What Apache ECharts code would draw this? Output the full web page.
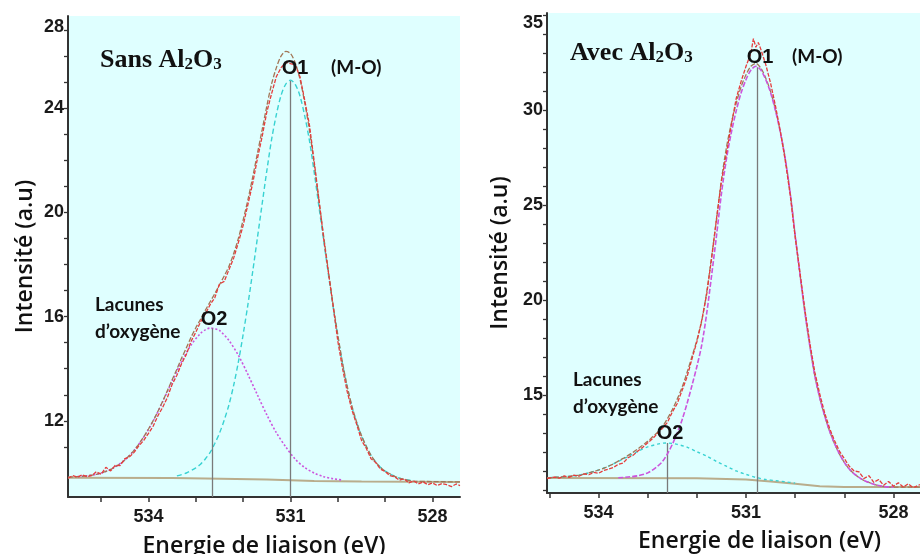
<!DOCTYPE html>
<html><head><meta charset="utf-8">
<script src="https://cdn.jsdelivr.net/npm/echarts@6/dist/echarts.min.js"></script>
<style>html,body{margin:0;padding:0;background:#fff}#c{width:920px;height:554px}</style>
</head><body><div id="c"></div><script>
// ---------- DATA (binding energy eV, intensity a.u.) ----------
// Left panel : "Sans Al2O3"
const leftXTicks = [528, 529, 530, 531, 532, 533, 534, 535];
const leftXLabels = [528, 531, 534];
const leftYTickAt = [11, 12, 13, 14, 15, 16, 17, 18, 19, 20, 21, 22, 23, 24, 25, 26, 27];
const leftYLabelAt = [12, 16, 20, 24, 27.53];
const leftYLabels = ['12', '16', '20', '24', '28'];
const leftPeakCenters = [531.0, 532.66];
const leftPeakHeights = [25.05, 15.55];

const leftBaseline = [[535.7,9.82],[533.5,9.81],[532.8,9.79],[531.5,9.75],[530.5,9.69],[529.5,9.67],[527.42,9.66]];

const leftO1 = [[533.4,9.89],[533.2,10.0],[533.0,10.2],[532.9,10.34],[532.8,10.54],[532.7,10.78],[532.6,11.13],[532.5,11.53],[532.4,12.03],[532.3,12.62],[532.2,13.37],[532.1,14.27],[532.0,15.32],[531.9,16.46],[531.8,17.71],[531.7,19.01],[531.6,20.31],[531.5,21.6],[531.4,22.79],[531.3,23.74],[531.2,24.48],[531.1,24.92],[531.0,25.07],[530.9,24.91],[530.8,24.46],[530.7,23.7],[530.6,22.75],[530.5,21.54],[530.4,20.22],[530.3,18.92],[530.2,17.62],[530.1,16.37],[530.0,15.22],[529.9,14.17],[529.8,13.27],[529.7,12.52],[529.6,11.92],[529.5,11.42],[529.4,11.02],[529.3,10.67],[529.2,10.42],[529.1,10.22],[529.0,10.07],[528.8,9.87],[528.6,9.75],[528.4,9.7]];

const leftO2 = [[535.5,9.86],[535.3,9.89],[535.1,9.95],[534.9,10.06],[534.7,10.24],[534.5,10.5],[534.3,10.88],[534.1,11.38],[533.9,12.0],[533.7,12.74],[533.5,13.52],[533.3,14.28],[533.1,14.91],[532.9,15.36],[532.8,15.49],[532.7,15.56],[532.6,15.53],[532.5,15.47],[532.3,15.08],[532.1,14.51],[531.9,13.78],[531.7,13.0],[531.5,12.23],[531.3,11.55],[531.1,11.0],[530.9,10.53],[530.7,10.21],[530.5,10.0],[530.3,9.86],[530.1,9.78],[529.9,9.73]];

const leftEnvelope = [[535.7,9.84],[535.6,9.85],[535.5,9.86],[535.4,9.87],[535.3,9.89],[535.2,9.92],[535.1,9.95],[535.0,10.0],[534.9,10.06],[534.8,10.14],[534.7,10.24],[534.6,10.35],[534.5,10.5],[534.4,10.68],[534.3,10.88],[534.2,11.12],[534.1,11.39],[534.0,11.69],[533.9,12.01],[533.8,12.37],[533.7,12.75],[533.6,13.16],[533.5,13.58],[533.4,13.98],[533.3,14.41],[533.2,14.8],[533.1,15.21],[533.0,15.57],[532.9,15.9],[532.8,16.24],[532.7,16.56],[532.6,16.88],[532.5,17.22],[532.4,17.56],[532.3,17.93],[532.2,18.42],[532.1,19.01],[532.0,19.71],[531.9,20.48],[531.8,21.34],[531.7,22.25],[531.6,23.16],[531.5,24.08],[531.4,24.92],[531.3,25.54],[531.2,25.99],[531.1,26.17],[531.0,26.09],[530.9,25.73],[530.8,25.11],[530.7,24.21],[530.6,23.15],[530.5,21.85],[530.4,20.45],[530.3,19.09],[530.2,17.75],[530.1,16.46],[530.0,15.29],[529.9,14.22],[529.8,13.31],[529.7,12.55],[529.6,11.94],[529.5,11.43],[529.4,11.03],[529.3,10.68],[529.2,10.42],[529.1,10.22],[529.0,10.07],[528.9,9.97],[528.8,9.87],[528.7,9.8],[528.6,9.75],[528.5,9.72],[528.4,9.69],[528.0,9.67],[527.42,9.66]];

const leftMeasured = [[535.7,9.8],[535.6,9.9],[535.5,9.84],[535.4,9.93],[535.3,9.86],[535.2,9.9],[535.1,10.05],[535.0,9.95],[534.9,10.22],[534.8,10.08],[534.7,10.3],[534.6,10.28],[534.5,10.55],[534.4,10.62],[534.3,10.8],[534.2,11.05],[534.1,11.25],[534.0,11.52],[533.9,11.8],[533.8,12.2],[533.7,12.52],[533.6,12.9],[533.5,13.4],[533.4,13.75],[533.3,14.2],[533.2,14.55],[533.1,15.05],[533.0,15.4],[532.9,15.8],[532.8,16.1],[532.7,16.45],[532.6,16.72],[532.5,17.25],[532.4,17.35],[532.3,17.8],[532.2,18.25],[532.1,18.85],[532.0,19.5],[531.9,20.3],[531.8,21.1],[531.7,22.05],[531.6,22.9],[531.5,23.85],[531.4,24.55],[531.3,25.2],[531.2,25.55],[531.1,25.75],[531.0,25.7],[530.9,25.65],[530.8,25.2],[530.7,24.3],[530.6,23.35],[530.5,21.95],[530.4,20.5],[530.3,19.0],[530.2,17.7],[530.1,16.4],[530.0,15.05],[529.9,14.0],[529.8,13.1],[529.7,12.4],[529.6,11.85],[529.5,11.25],[529.4,10.95],[529.3,10.55],[529.2,10.4],[529.1,10.15],[529.0,10.05],[528.9,9.9],[528.8,9.85],[528.7,9.72],[528.6,9.78],[528.5,9.62],[528.4,9.7],[528.3,9.58],[528.2,9.66],[528.1,9.55],[528.0,9.62],[527.9,9.52],[527.8,9.6],[527.7,9.55],[527.6,9.48],[527.5,9.58],[527.42,9.52]];

// Right panel : "Avec Al2O3"
const rightXTicks = [528, 529, 530, 531, 532, 533, 534, 535];
const rightXLabels = [528, 531, 534];
const rightYTickAt = [10, 11, 12, 13, 14, 15, 16, 17, 18, 19, 20, 21, 22, 23, 24, 25, 26, 27, 28, 29, 30, 31, 32, 33, 34, 35];
const rightYLabelAt = [15, 20, 25, 30, 35];
const rightYLabels = ['15', '20', '25', '30', '35'];
const rightPeakCenters = [530.78, 532.61];
const rightPeakHeights = [32.25, 12.47];

const rightBaseline = [[535.05,10.63],[532.0,10.62],[531.0,10.55],[530.5,10.45],[530.0,10.33],[529.5,10.2],[529.0,10.16],[527.46,10.15]];

const rightO1 = [[533.6,10.64],[533.4,10.68],[533.2,10.75],[533.0,10.9],[532.8,11.25],[532.7,11.5],[532.6,11.9],[532.5,12.4],[532.4,13.0],[532.3,13.7],[532.2,14.55],[532.1,15.5],[532.0,16.5],[531.9,17.65],[531.8,19.3],[531.7,21.3],[531.6,23.4],[531.5,25.6],[531.4,27.4],[531.3,28.8],[531.2,29.95],[531.1,30.9],[531.0,31.6],[530.9,32.1],[530.8,32.3],[530.7,32.1],[530.6,31.6],[530.5,30.9],[530.4,29.95],[530.3,28.8],[530.2,27.4],[530.1,25.6],[530.0,23.4],[529.9,21.3],[529.8,19.3],[529.7,17.55],[529.6,16.0],[529.5,14.85],[529.4,13.9],[529.3,13.1],[529.2,12.45],[529.1,11.9],[529.0,11.45],[528.9,11.1],[528.8,10.85],[528.6,10.5],[528.4,10.3],[528.2,10.18],[528.0,10.15]];

const rightO2 = [[535.0,10.65],[534.8,10.68],[534.6,10.72],[534.4,10.78],[534.2,10.9],[534.0,11.05],[533.8,11.25],[533.6,11.5],[533.4,11.76],[533.2,12.03],[533.0,12.27],[532.8,12.41],[532.7,12.46],[532.6,12.47],[532.5,12.45],[532.4,12.4],[532.2,12.25],[532.0,12.01],[531.8,11.78],[531.6,11.5],[531.4,11.25],[531.2,11.0],[531.0,10.82],[530.8,10.66],[530.6,10.55],[530.4,10.49],[530.2,10.43],[530.0,10.36]];

const rightEnvelope = [[535.05,10.64],[534.9,10.66],[534.8,10.68],[534.7,10.69],[534.6,10.72],[534.5,10.75],[534.4,10.78],[534.3,10.83],[534.2,10.9],[534.1,10.97],[534.0,11.05],[533.9,11.14],[533.8,11.25],[533.7,11.37],[533.6,11.52],[533.5,11.66],[533.4,11.82],[533.3,11.98],[533.2,12.16],[533.1,12.37],[533.0,12.56],[532.9,12.8],[532.8,13.04],[532.7,13.34],[532.6,13.75],[532.5,14.23],[532.4,14.78],[532.3,15.41],[532.2,16.18],[532.1,17.02],[532.0,17.89],[531.9,18.91],[531.8,20.42],[531.7,22.28],[531.6,24.25],[531.5,26.32],[531.4,28.0],[531.3,29.29],[531.2,30.35],[531.1,31.22],[531.0,31.85],[530.9,32.3],[530.8,32.45],[530.7,32.21],[530.6,31.68],[530.5,30.96],[530.4,30.0],[530.3,28.83],[530.2,27.42],[530.1,25.62],[530.0,23.41],[529.9,21.3],[529.8,19.3],[529.7,17.55],[529.6,16.0],[529.5,14.85],[529.4,13.9],[529.3,13.1],[529.2,12.45],[529.1,11.9],[529.0,11.45],[528.9,11.1],[528.8,10.85],[528.7,10.65],[528.6,10.5],[528.5,10.4],[528.4,10.3],[528.2,10.18],[528.0,10.15],[527.46,10.15]];

const rightMeasured = [[535.05,10.6],[534.9,10.68],[534.8,10.62],[534.7,10.74],[534.6,10.66],[534.5,10.78],[534.4,10.72],[534.3,10.85],[534.2,10.8],[534.1,10.92],[534.0,10.88],[533.9,11.02],[533.8,11.1],[533.7,11.18],[533.6,11.35],[533.5,11.42],[533.4,11.7],[533.3,11.82],[533.2,12.05],[533.1,12.25],[533.0,12.48],[532.9,12.7],[532.8,12.98],[532.7,13.25],[532.6,13.55],[532.5,14.1],[532.4,14.55],[532.3,15.25],[532.2,15.95],[532.1,16.9],[532.0,17.8],[531.9,18.95],[531.8,20.3],[531.7,22.2],[531.6,24.3],[531.5,26.25],[531.4,27.7],[531.3,29.2],[531.2,30.6],[531.1,31.5],[531.0,32.3],[530.9,33.0],[530.85,33.75],[530.8,33.3],[530.75,33.55],[530.7,33.2],[530.6,32.4],[530.5,31.4],[530.4,30.2],[530.3,28.85],[530.2,27.3],[530.1,25.5],[530.0,23.3],[529.9,21.4],[529.8,19.45],[529.7,17.7],[529.6,16.2],[529.5,15.05],[529.4,14.05],[529.3,13.25],[529.2,12.6],[529.1,12.05],[529.0,11.65],[528.9,11.25],[528.8,11.0],[528.7,10.95],[528.6,10.6],[528.5,10.75],[528.4,10.4],[528.3,10.55],[528.2,10.25],[528.1,10.45],[528.0,10.2],[527.9,10.38],[527.8,10.15],[527.7,10.32],[527.6,10.12],[527.46,10.28]];

// ---------- CHART ----------
const AX = '#333';
const TICKFONT = 'Liberation Sans';
const NAMEFONT = 'Open Sans';
const BG = '#dfffff';

function xAxisCfg(grid, min, max, ticks, labels, gap, pad) {
  return {
    type: 'value', gridIndex: grid, min: min, max: max, inverse: true,
    axisLine: { show: true, onZero: false, lineStyle: { color: AX, width: 2 } },
    axisTick: { show: true, inside: false, length: 5, customValues: ticks, lineStyle: { color: AX, width: 1.5 } },
    axisLabel: { customValues: labels, fontSize: 18, fontWeight: 'bold', color: '#1a1a1a', margin: 11, fontFamily: TICKFONT },
    splitLine: { show: false },
    name: 'Energie de liaison (eV)', nameLocation: 'middle', nameGap: gap,
    nameTextStyle: { fontFamily: NAMEFONT, fontSize: 23, fontWeight: 600, color: '#111', padding: pad }
  };
}
function yAxisCfg(grid, min, max, ticks, labelAt, labels, topPad, gap) {
  return {
    type: 'value', gridIndex: grid, min: min, max: max,
    axisLine: { show: true, onZero: false, lineStyle: { color: AX, width: 2 } },
    axisTick: { show: true, inside: false, length: 4, customValues: ticks, lineStyle: { color: AX, width: 1.3 } },
    axisLabel: {
      customValues: labelAt, fontSize: 18, fontWeight: 'bold', color: '#1a1a1a', margin: 4, fontFamily: TICKFONT,
      formatter: function (v) {
        const i = labelAt.indexOf(v);
        const t = i >= 0 ? labels[i] : String(v);
        return i === labelAt.length - 1 ? '{t|' + t + '}' : t;
      },
      rich: { t: { fontSize: 18, fontWeight: 'bold', color: '#1a1a1a', fontFamily: TICKFONT, padding: [topPad, 0, 0, 0] } }
    },
    splitLine: { show: false },
    name: 'Intensité (a.u)', nameLocation: 'middle', nameRotate: 90, nameGap: gap,
    nameTextStyle: { fontFamily: NAMEFONT, fontSize: 23, fontWeight: 600, color: '#111' }
  };
}
function line(idx, data, color, type, width, z, smooth) {
  return {
    type: 'line', xAxisIndex: idx, yAxisIndex: idx, data: data, symbol: 'none',
    smooth: smooth ? 0.3 : false, z: z, silent: true,
    lineStyle: { color: color, type: type, width: width }
  };
}
function peakLines(centers, heights, ymin) {
  return {
    silent: true, symbol: ['none', 'none'], label: { show: false },
    lineStyle: { color: '#7a7a7a', width: 1.3, type: 'solid' },
    data: centers.map(function (c, i) { return [{ coord: [c, heights[i]] }, { coord: [c, ymin] }]; })
  };
}

const L_YMIN = 9.08, R_YMIN = 9.84;
const sL0 = line(0, leftBaseline, '#b9ad8c', 'solid', 2, 2, false);
sL0.markLine = peakLines(leftPeakCenters, leftPeakHeights, L_YMIN);
const sR0 = line(1, rightBaseline, '#b9ad8c', 'solid', 2, 2, false);
sR0.markLine = peakLines(rightPeakCenters, rightPeakHeights, R_YMIN);

const titleRich = {
  a: { fontSize: 26, fontWeight: 'bold', fontFamily: 'Liberation Serif', fill: '#111' },
  s: { fontSize: 17, fontWeight: 'bold', fontFamily: 'Liberation Serif', fill: '#111', padding: [10, 0, 0, 0] }
};
const labelFont = 'bold 20px "Liberation Sans"';
const noteFont = 'bold 19px Lato';

const chart = echarts.init(document.getElementById('c'), null, { renderer: 'canvas' });
chart.setOption({
  animation: false,
  backgroundColor: '#ffffff',
  grid: [
    { left: 68, top: 16, width: 392, height: 481, show: true, backgroundColor: BG, borderWidth: 0, containLabel: false, outerBoundsMode: 'none' },
    { left: 547, top: 13, width: 373, height: 480, show: true, backgroundColor: BG, borderWidth: 0, containLabel: false, outerBoundsMode: 'none' }
  ],
  xAxis: [
    xAxisCfg(0, 527.42, 535.7, leftXTicks, leftXLabels, 38, [0, 0, 0, 0]),
    xAxisCfg(1, 527.46, 535.05, rightXTicks, rightXLabels, 37, [0, 0, 0, 52])
  ],
  yAxis: [
    yAxisCfg(0, L_YMIN, 27.53, leftYTickAt, leftYLabelAt, leftYLabels, 22, 31),
    yAxisCfg(1, R_YMIN, 35.1, rightYTickAt, rightYLabelAt, rightYLabels, 16, 35)
  ],
  series: [
    sL0,
    line(0, leftO1, '#38d2d2', [5, 3], 1.4, 3, true),
    line(0, leftO2, '#cc55dd', [2, 2], 1.6, 4, true),
    line(0, leftEnvelope, '#a27656', [5, 2], 1.3, 5, true),
    line(0, leftMeasured, '#e63c3c', [4, 1.5], 1.3, 6, false),
    sR0,
    line(1, rightO2, '#38d2d2', [3, 3], 1.4, 3, true),
    line(1, rightEnvelope, '#a27656', [5, 2], 1.3, 4, true),
    line(1, rightO1, '#cc55dd', [5, 2], 1.6, 5, true),
    line(1, rightMeasured, '#e63c3c', [4, 1.5], 1.3, 6, false)
  ],
  graphic: [
    { type: 'text', x: 100, y: 60, z: 50, style: { text: '{a|Sans Al}{s|2}{a|O}{s|3}', verticalAlign: 'middle', rich: titleRich } },
    { type: 'text', x: 570, y: 53, z: 50, style: { text: '{a|Avec Al}{s|2}{a|O}{s|3}', verticalAlign: 'middle', rich: titleRich } },
    { type: 'text', x: 295, y: 68, z: 50, style: { text: 'O1', font: labelFont, fill: '#111', align: 'center', verticalAlign: 'middle' } },
    { type: 'text', x: 331, y: 68, z: 50, style: { text: '(M-O)', font: noteFont, fill: '#111', align: 'left', verticalAlign: 'middle' } },
    { type: 'text', x: 95, y: 318, z: 50, style: { text: 'Lacunes\nd’oxygène', font: noteFont, lineHeight: 27, fill: '#111', align: 'left', verticalAlign: 'middle' } },
    { type: 'text', x: 214, y: 319, z: 50, style: { text: 'O2', font: labelFont, fill: '#111', align: 'center', verticalAlign: 'middle' } },
    { type: 'text', x: 760, y: 57, z: 50, style: { text: 'O1', font: labelFont, fill: '#111', align: 'center', verticalAlign: 'middle' } },
    { type: 'text', x: 792, y: 57, z: 50, style: { text: '(M-O)', font: noteFont, fill: '#111', align: 'left', verticalAlign: 'middle' } },
    { type: 'text', x: 573, y: 393, z: 50, style: { text: 'Lacunes\nd’oxygène', font: noteFont, lineHeight: 27, fill: '#111', align: 'left', verticalAlign: 'middle' } },
    { type: 'text', x: 670, y: 433, z: 50, style: { text: 'O2', font: labelFont, fill: '#111', align: 'center', verticalAlign: 'middle' } }
  ]
});
</script></body></html>
